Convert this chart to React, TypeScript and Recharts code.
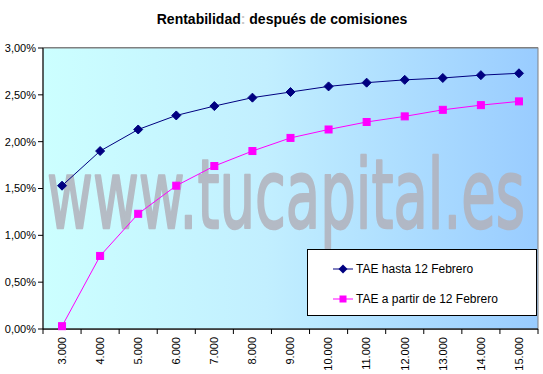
import { CartesianGrid, ComposedChart, Legend, Line, XAxis, YAxis } from 'recharts';

const categories = ['3.000', '4.000', '5.000', '6.000', '7.000', '8.000', '9.000', '10.000', '11.000', '12.000', '13.000', '14.000', '15.000'];
const taeHasta = [1.53, 1.9, 2.13, 2.28, 2.38, 2.47, 2.53, 2.59, 2.63, 2.66, 2.68, 2.71, 2.73];
const taePartir = [0.03, 0.78, 1.23, 1.53, 1.74, 1.9, 2.04, 2.13, 2.21, 2.27, 2.34, 2.39, 2.43];
const yTicks = [0, 0.5, 1, 1.5, 2, 2.5, 3];

const seriesNames = ['TAE hasta 12 Febrero', 'TAE a partir de 12 Febrero'];

const data = categories.map((cat, i) => ({ cat, hasta: taeHasta[i], partir: taePartir[i] }));

// layout
const W = 543;
const H = 374;
const PLOT_LEFT = 43;
const PLOT_TOP = 48;
const PLOT_RIGHT = 538;
const PLOT_BOTTOM = 329;
const BAND = (PLOT_RIGHT - PLOT_LEFT) / categories.length;
const FONT = '"Liberation Sans", Arial, sans-serif';

const NAVY = '#000080';
const MAGENTA = '#ff00ff';

const fmtPct = (v: number) => v.toFixed(2).replace('.', ',') + '%';

const Diamond = (props: any) => {
  const { cx, cy, index } = props;
  if (cx == null || cy == null) return <g key={`d-${index}`} />;
  return <path key={`d-${index}`} d={`M${cx},${cy - 4.5}L${cx + 4.5},${cy}L${cx},${cy + 4.5}L${cx - 4.5},${cy}Z`} fill={NAVY} stroke={NAVY} />;
};

const Square = (props: any) => {
  const { cx, cy, index } = props;
  if (cx == null || cy == null) return <g key={`s-${index}`} />;
  return <rect key={`s-${index}`} x={cx - 3.5} y={cy - 3.5} width={7} height={7} fill={MAGENTA} stroke={MAGENTA} />;
};

const XTick = (props: any) => {
  const { x, y, payload, index } = props;
  const last = index === categories.length - 1;
  return (
    <g>
      <line x1={x - BAND / 2} x2={x - BAND / 2} y1={PLOT_BOTTOM} y2={PLOT_BOTTOM + 5} stroke="#000" />
      {last && <line x1={x + BAND / 2} x2={x + BAND / 2} y1={PLOT_BOTTOM} y2={PLOT_BOTTOM + 5} stroke="#000" />}
      <text
        x={x}
        y={y}
        transform={`rotate(-90, ${x}, ${y})`}
        textAnchor="end"
        dy="0.35em"
        fontSize={11}
        fontFamily={FONT}
        fill="#000"
      >
        {payload.value}
      </text>
    </g>
  );
};

const LegendBox = () => (
  <div
    style={{
      width: 228,
      height: 65,
      border: '1px solid #000',
      background: '#fff',
      fontFamily: FONT,
      fontSize: 12,
      color: '#000',
      boxSizing: 'content-box',
    }}
  >
    {seriesNames.map((name, i) => (
      <div key={name} style={{ display: 'flex', alignItems: 'center', height: 30, marginTop: i === 0 ? 4 : 0, paddingLeft: 25 }}>
        <svg width={20} height={10} style={{ marginRight: 3 }}>
          <line x1={0} x2={20} y1={5} y2={5} stroke={i === 0 ? NAVY : MAGENTA} />
          {i === 0 ? (
            <path d="M10,0.5L14.5,5L10,9.5L5.5,5Z" fill={NAVY} />
          ) : (
            <rect x={6.5} y={1.5} width={7} height={7} fill={MAGENTA} />
          )}
        </svg>
        <span>{name}</span>
      </div>
    ))}
  </div>
);

export default function App() {
  return (
    <div style={{ position: 'absolute', left: 0, top: 0, width: W, height: H, background: '#fff' }}>
      <ComposedChart
        width={W}
        height={H}
        data={data}
        margin={{ top: PLOT_TOP, right: W - PLOT_RIGHT, bottom: 0, left: 0 }}
      >
        <defs>
          <linearGradient id="plotBg" x1="0" x2="1" y1="0" y2="0">
            <stop offset="0%" stopColor="#ccffff" />
            <stop offset="45%" stopColor="#c2efff" />
            <stop offset="100%" stopColor="#99ccff" />
          </linearGradient>
        </defs>
        <rect
          x={PLOT_LEFT}
          y={PLOT_TOP}
          width={PLOT_RIGHT - PLOT_LEFT}
          height={PLOT_BOTTOM - PLOT_TOP}
          fill="url(#plotBg)"
          stroke="#808080"
        />
        <text
          x={47}
          y={228}
          fontSize={97}
          fontFamily='"DejaVu Sans", sans-serif'
          textLength={478}
          lengthAdjust="spacingAndGlyphs"
          fill="#b2b2bc"
          stroke="#b2b2bc"
          strokeWidth={2.5}
          strokeLinejoin="round"
          opacity={0.85}
        >
          www.tucapital.es
        </text>
        <text x={282} y={24} textAnchor="middle" fontSize={14} fontWeight="bold" fontFamily={FONT} fill="#000">
          Rentabilidad<tspan fill="#c8c8c8">:</tspan> después de comisiones
        </text>
        <CartesianGrid vertical={false} stroke="#000" fill="none" />
        <XAxis
          dataKey="cat"
          interval={0}
          height={H - PLOT_BOTTOM}
          padding={{ left: BAND / 2, right: BAND / 2 }}
          tickLine={false}
          tickSize={5}
          tickMargin={3}
          axisLine={{ stroke: '#000' }}
          tick={<XTick />}
        />
        <YAxis
          domain={[0, 3]}
          ticks={yTicks}
          width={PLOT_LEFT}
          tickSize={5}
          tickMargin={2}
          tickFormatter={fmtPct}
          axisLine={{ stroke: '#000' }}
          tickLine={{ stroke: '#000' }}
          tick={{ fill: '#000', fontSize: 11, fontFamily: FONT }}
          interval={0}
        />
        <Line
          dataKey="hasta"
          name={seriesNames[0]}
          stroke={NAVY}
          strokeWidth={1}
          dot={Diamond}
          activeDot={false}
          isAnimationActive={false}
        />
        <Line
          dataKey="partir"
          name={seriesNames[1]}
          stroke={MAGENTA}
          strokeWidth={1}
          dot={Square}
          activeDot={false}
          isAnimationActive={false}
        />
        <Legend
          layout="horizontal"
          verticalAlign="middle"
          align="center"
          width={230}
          height={67}
          wrapperStyle={{ left: 307, top: 249, right: 'auto', bottom: 'auto' }}
          content={<LegendBox />}
        />
      </ComposedChart>
    </div>
  );
}
